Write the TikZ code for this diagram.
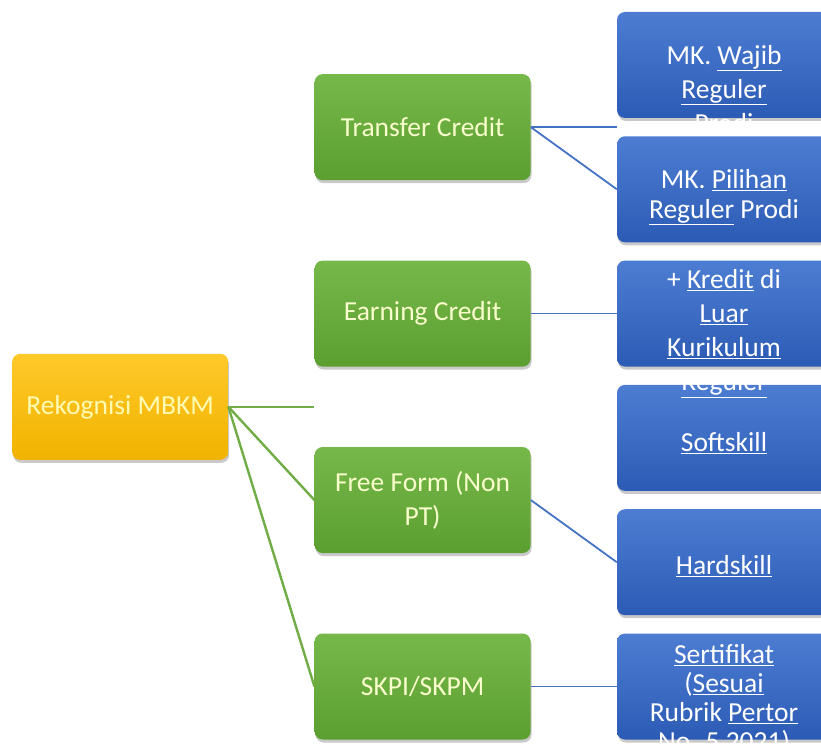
\documentclass[tikz,border=0pt]{standalone}
\usepackage{fontspec}
\setmainfont{Carlito}
\usetikzlibrary{positioning,shadows,calc}

\definecolor{oranyeA}{HTML}{FFC92A}
\definecolor{oranyeB}{HTML}{F1B300}
\definecolor{hijauA}{HTML}{76B849}
\definecolor{hijauB}{HTML}{5C9F31}
\definecolor{biruA}{HTML}{4C7DD2}
\definecolor{biruB}{HTML}{2C5BB5}
\definecolor{garisH}{HTML}{70AD47}
\definecolor{garisB}{HTML}{4472C4}

\tikzset{
	kotak/.style={rectangle, rounded corners=8pt, inner sep=0pt,
		minimum height=106pt, align=center,
		font=\fontsize{27.5}{34}\selectfont,
		drop shadow={shadow xshift=1pt, shadow yshift=-3pt, opacity=0.3, fill=black!70}},
	akar/.style={kotak, minimum width=216pt, top color=oranyeA, bottom color=oranyeB, text=yellow!30},
	hijau/.style={kotak, minimum width=216pt, top color=hijauA, bottom color=hijauB, text=green!12!yellow!20},
	biru/.style={kotak, minimum width=214pt, top color=biruA, bottom color=biruB},
	tulisan/.style={align=center, text=white, inner sep=0pt, font=\fontsize{27.5}{34}\selectfont},
	cabangH/.style={draw=garisH, line width=2.4pt},
	cabangB/.style={draw=garisB, line width=1.8pt},
}

\begin{document}
\begin{tikzpicture}[x=1pt, y=1pt]
	\path[use as bounding box, clip] (0,0) rectangle (821,755);

	%% kolom biru
	\node[biru] (b1) at (724,690) {};
	\node[biru, below =17.9pt of b1] (b2) {};
	\node[biru, below =17.9pt of b2] (b3) {};
	\node[biru, below =17.9pt of b3] (b4) {};
	\node[biru, below =17.9pt of b4] (b5) {};
	\node[biru, below =17.9pt of b5] (b6) {};

	%% kolom hijau
	\coordinate (m1) at ($(b1.west)!0.5!(b2.west)$);
	\coordinate (m2) at ($(b4.west)!0.5!(b5.west)$);
	\node[hijau, left =86pt of m1] (g1) {Transfer Credit};
	\node[hijau, left =86pt of b3] (g2) {Earning Credit};
	\node[hijau, left =86pt of m2] (g3) {Free Form (Non\\PT)};
	\node[hijau, left =86pt of b6] (g4) {SKPI/SKPM};

	%% akar
	\coordinate (m0) at ($(g1.west)!0.5!(g4.west)$);
	\node[akar, left =86pt of m0] (r0) {Rekognisi MBKM};

	%% garis
	\coordinate (s0) at (r0.east -| g1.west);
	\coordinate (s1) at (g1.east -| b1.west);
	\draw[cabangH] (r0.east) -- (s0);
	\draw[cabangH] (r0.east) -- (g3.west);
	\draw[cabangH] (r0.east) -- (g4.west);
	\draw[cabangB] (g1.east) -- (s1);
	\draw[cabangB] (g1.east) -- (b2.west);
	\draw[cabangB] (g2.east) -- (b3.west);
	\draw[cabangB] (g3.east) -- (b5.west);
	\draw[cabangB] (g4.east) -- (b6.west);

	%% teks kotak biru
	\node[tulisan] (t1) at ([yshift=-24pt]b1.center) {MK. \underline{Wajib}\\\underline{Reguler}\\Prodi};
	\node[tulisan, font=\fontsize{27.5}{30}\selectfont] (t2) at ([yshift=-8pt]b2.center) {MK. \underline{Pilihan}\\\underline{Reguler} Prodi};
	\node[tulisan] (t3) at ([yshift=-20pt]b3.center) {+ \underline{Kredit} di\\\underline{Luar}\\\underline{Kurikulum}\\\underline{Reguler}};
	\node[tulisan] (t4) at ([yshift=-5pt]b4.center) {\underline{Softskill}};
	\node[tulisan] (t5) at ([yshift=-4pt]b5.center) {\underline{Hardskill}};
	\node[tulisan, font=\fontsize{27.5}{29}\selectfont] (t6) at ([yshift=-13pt]b6.center) {\underline{Sertifikat}\\(\underline{Sesuai}\\Rubrik \underline{Pertor}\\No. 5 2021)};
\end{tikzpicture}
\end{document}
